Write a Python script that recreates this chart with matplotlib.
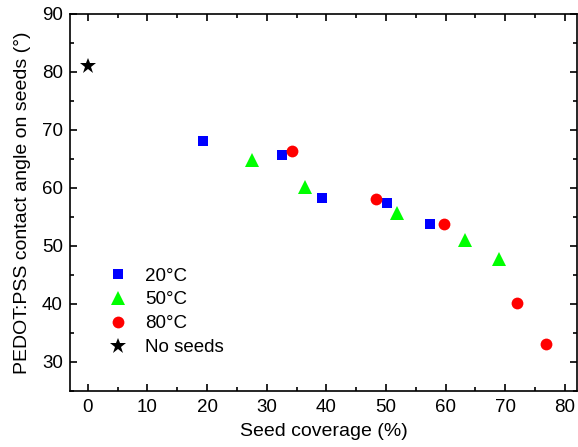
import matplotlib.pyplot as plt
from matplotlib.ticker import MultipleLocator

plt.rcParams['font.family'] = ['Liberation Sans', 'DejaVu Sans']

# Seed coverage (%) and contact angle (deg)
x_20 = [19.3, 32.6, 39.2, 50.1, 57.3]
y_20 = [68.0, 65.7, 58.3, 57.4, 53.8]
x_50 = [27.5, 36.4, 51.8, 63.2, 68.9]
y_50 = [64.8, 60.2, 55.6, 51.0, 47.8]
x_80 = [34.3, 48.4, 59.8, 71.9, 76.9]
y_80 = [66.4, 58.0, 53.7, 40.1, 33.1]
x_none = [0]
y_none = [81.0]

fig = plt.figure(figsize=(5.78, 4.47), dpi=100)
ax = fig.add_axes([0.121, 0.126, 0.877, 0.843])

ax.plot(x_20, y_20, 's', color='#0000ff', ms=7.5, mew=0, label='20°C')
ax.plot(x_50, y_50, '^', color='#00ff00', ms=10, mew=0, label='50°C')
ax.plot(x_80, y_80, 'o', color='#ff0000', ms=8.5, mew=0, label='80°C')
ax.plot(x_none, y_none, '*', color='black', ms=12, mew=0, label='No seeds')

ax.set_xlim(-3, 82)
ax.set_ylim(25, 90)
ax.xaxis.set_major_locator(MultipleLocator(10))
ax.xaxis.set_minor_locator(MultipleLocator(5))
ax.yaxis.set_major_locator(MultipleLocator(10))
ax.yaxis.set_minor_locator(MultipleLocator(5))
ax.tick_params(which='both', direction='in', top=True, right=True, labelsize=13.5, width=1.2)
ax.tick_params(which='major', length=5)
ax.tick_params(which='minor', length=3)
ax.tick_params(axis='x', pad=6)
ax.tick_params(axis='y', pad=5)
for s in ax.spines.values():
    s.set_linewidth(1.2)

ax.set_xlabel('Seed coverage (%)', fontsize=14, labelpad=5)
ax.set_ylabel('PEDOT:PSS contact angle on seeds (°)', fontsize=14, labelpad=8)

ax.legend(loc='upper left', bbox_to_anchor=(0.043, 0.347), frameon=False, fontsize=13.5,
          handletextpad=0.45, labelspacing=0.36, borderaxespad=0)

fig.savefig('out.png', dpi=100)
